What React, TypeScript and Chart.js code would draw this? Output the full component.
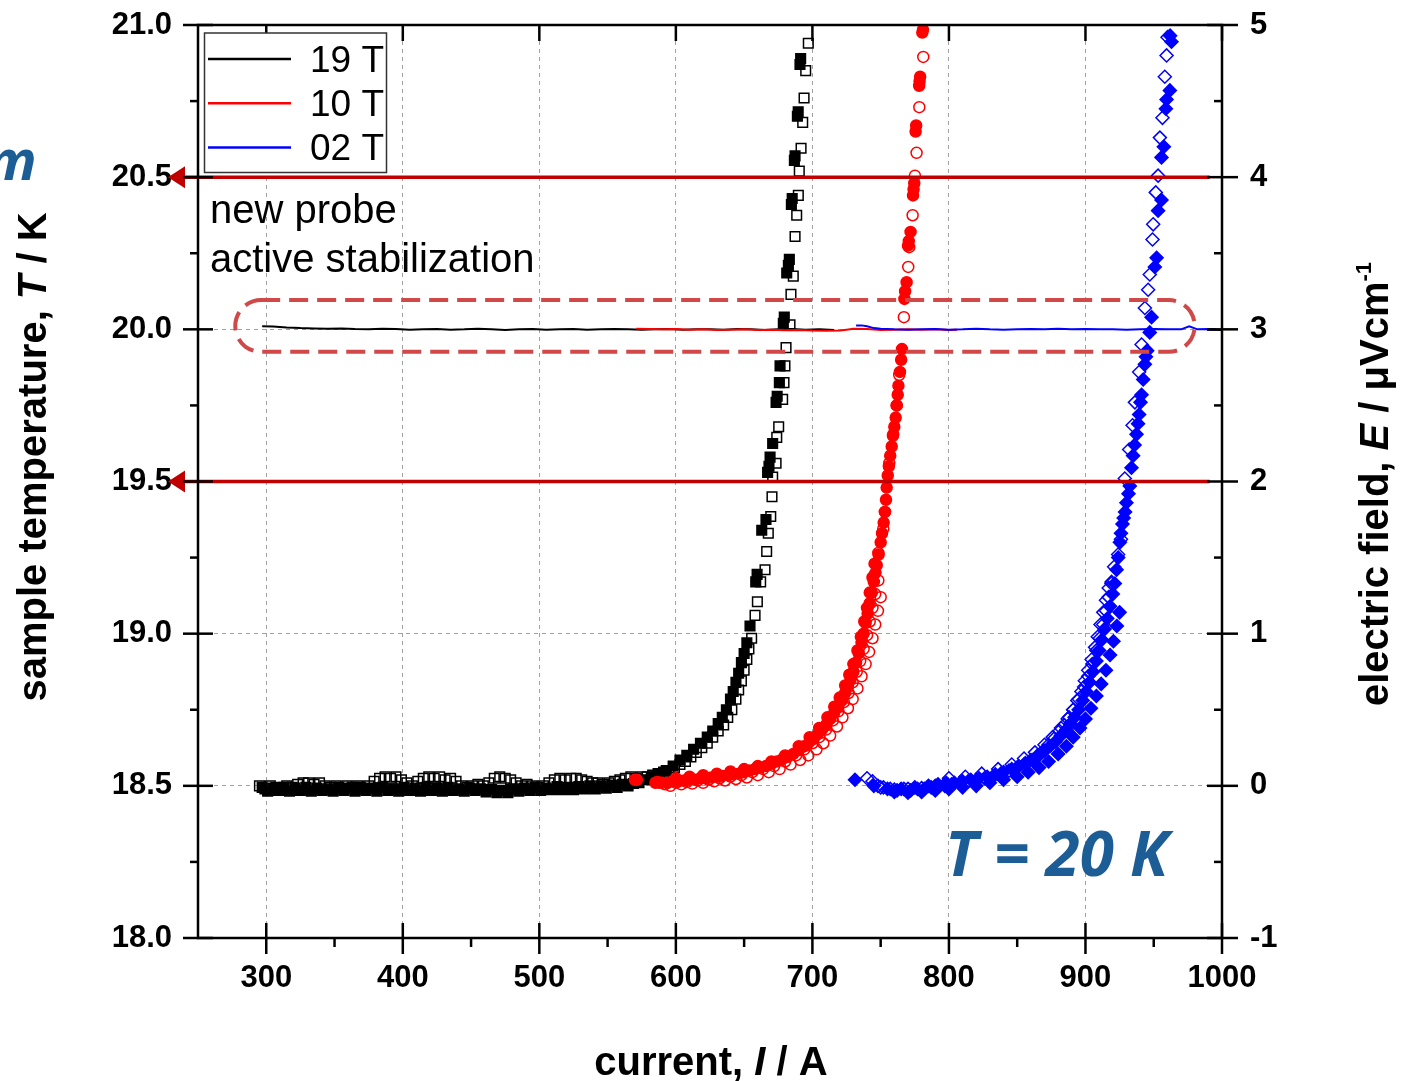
import React, { useEffect, useRef } from "react";
import { Chart, registerables } from "chart.js";

Chart.register(...registerables);

const FONT = "'Liberation Sans', Arial, Helvetica, sans-serif";

// ---------- axis ticks ----------
const currentTicks = [300, 400, 500, 600, 700, 800, 900, 1000];
const currentMinorTicks = [350, 450, 550, 650, 750, 850, 950];
const tempTicks = [18.0, 18.5, 19.0, 19.5, 20.0, 20.5, 21.0];
const tempMinorTicks = [18.25, 18.75, 19.25, 19.75, 20.25, 20.75];
const fieldTicks = [-1, 0, 1, 2, 3, 4, 5];
const fieldMinorTicks = [-0.5, 0.5, 1.5, 2.5, 3.5, 4.5];

// ---------- legend ----------
const seriesLabels = ["19 T", "10 T", "02 T"];
const seriesColors = ["#000000", "#ff0000", "#0000ff"];

// ---------- sample temperature (left axis) ----------
const temp19T: number[][] = [
  [297, 20.01], [305, 20.009], [315, 20.006], [325, 20.004], [335, 20.003], [345, 20.002],
  [355, 20.003], [365, 20.001], [375, 20.0], [385, 20.002], [395, 20.001], [405, 19.999],
  [415, 20.0], [425, 20.001], [435, 19.999], [445, 20.0], [455, 20.002], [465, 20.0],
  [475, 19.998], [485, 20.0], [495, 20.001], [505, 19.999], [515, 20.0], [525, 20.001],
  [535, 19.999], [545, 20.0], [555, 20.001], [565, 20.0], [575, 19.999], [585, 20.0],
  [595, 20.001], [605, 19.999], [615, 20.0], [625, 20.0], [635, 19.999], [645, 20.001],
  [655, 20.0], [665, 19.998], [675, 20.0], [685, 20.001], [695, 19.999], [705, 20.0], [716, 19.998],
];
const temp19TTail: number[][] = [[989, 19.999], [1000, 19.998]];
const temp10T: number[][] = [
  [571, 20.002], [580, 20.001], [590, 20.0], [600, 20.001], [610, 19.999], [620, 20.0],
  [630, 19.998], [640, 19.999], [650, 20.0], [660, 19.998], [670, 19.999], [680, 19.997],
  [690, 19.998], [700, 19.996], [710, 19.995], [720, 19.996], [725, 19.999], [730, 20.002],
  [740, 20.001], [750, 19.998], [760, 19.999], [770, 20.0], [780, 19.999], [790, 20.0],
  [800, 19.998], [806, 19.999],
];
const temp02T: number[][] = [
  [732, 20.013], [736, 20.013], [740, 20.01], [745, 20.004], [750, 20.002], [760, 20.0],
  [770, 19.999], [780, 20.0], [790, 20.001], [800, 19.999], [810, 20.0], [820, 20.002],
  [830, 20.0], [840, 19.999], [850, 20.0], [860, 20.001], [870, 20.0], [880, 20.002],
  [890, 20.0], [900, 20.001], [910, 20.0], [920, 20.0], [930, 19.999], [940, 20.0],
  [950, 20.001], [960, 20.0], [970, 20.0], [976, 20.01], [982, 20.0], [990, 20.001], [996, 20.0],
];

// ---------- electric field (right axis) ----------
const field19TFilled: number[][] = [
  [297, -0.01], [301, -0.035], [305, -0.015], [309, -0.03], [313, -0.01], [317, -0.035],
  [321, -0.015], [325, -0.03], [329, -0.01], [333, -0.035], [337, -0.015], [341, -0.03],
  [345, -0.02], [349, -0.035], [353, -0.01], [357, -0.03], [361, -0.015], [365, -0.035],
  [369, -0.01], [373, -0.03], [377, -0.015], [381, -0.035], [385, -0.01], [389, -0.03],
  [393, -0.02], [397, -0.035], [401, -0.01], [405, -0.03], [409, -0.015], [413, -0.035],
  [417, -0.01], [421, -0.03], [425, -0.015], [429, -0.035], [433, -0.01], [437, -0.03],
  [441, -0.02], [445, -0.035], [449, -0.015], [453, -0.03], [457, -0.02], [461, -0.04],
  [465, -0.025], [469, -0.045], [473, -0.03], [477, -0.045], [481, -0.02], [485, -0.035],
  [489, -0.015], [493, -0.03], [497, -0.01], [501, -0.03], [505, -0.015], [509, -0.025],
  [513, -0.005], [517, -0.025], [521, -0.01], [525, -0.025], [529, -0.005], [533, -0.02],
  [537, 0.0], [541, -0.02], [545, 0.0], [549, -0.015], [553, 0.005], [557, -0.01],
  [561, 0.01], [565, 0.0], [569, 0.015], [573, 0.02],
  [578, 0.04], [583, 0.06], [588, 0.08], [593, 0.1], [598, 0.13], [603, 0.17], [608, 0.2],
  [613, 0.24], [618, 0.28], [623, 0.32], [627, 0.36], [631, 0.41], [634, 0.45], [637, 0.5],
  [640, 0.57], [642, 0.62], [644, 0.68], [646, 0.74], [648, 0.81], [650, 0.87], [652, 0.94],
  [654.3, 1.05], [658.5, 1.34], [659.5, 1.39], [662.9, 1.68], [666.0, 1.75], [667.2, 2.06],
  [668.2, 2.1], [669.0, 2.16], [670.9, 2.25], [673.4, 2.52], [674.2, 2.56], [675.8, 2.65],
  [676.3, 2.76], [678.7, 3.04], [679.4, 3.08], [681.2, 3.37], [682.4, 3.42], [683.1, 3.46],
  [684.6, 3.82], [685.2, 3.86], [686.8, 4.11], [687.3, 4.14], [689.0, 4.4], [689.6, 4.43],
  [690.9, 4.74], [691.4, 4.78],
];
const field19TOpen: number[][] = [
  [295, 0.0], [299, -0.02], [303, 0.0], [307, -0.01], [311, -0.02], [315, 0.0], [319, -0.01],
  [323, 0.01], [327, 0.02], [331, 0.02], [335, 0.01], [339, 0.02], [343, 0.0], [347, -0.01],
  [351, 0.0], [355, -0.02], [359, 0.0], [363, -0.01], [367, 0.0], [371, -0.02], [375, 0.0],
  [379, 0.03], [383, 0.05], [387, 0.06], [391, 0.05], [395, 0.06], [399, 0.04], [403, 0.02],
  [407, 0.0], [411, 0.03], [415, 0.05], [419, 0.06], [423, 0.05], [427, 0.06], [431, 0.04],
  [435, 0.05], [439, 0.03], [443, 0.0], [447, -0.01], [451, 0.0], [455, 0.01], [459, 0.0],
  [463, 0.02], [467, 0.05], [471, 0.06], [475, 0.05], [479, 0.04], [483, 0.02], [487, 0.0],
  [491, 0.01], [495, 0.0], [499, -0.01], [503, 0.0], [507, 0.02], [511, 0.04], [515, 0.05],
  [519, 0.04], [523, 0.05], [527, 0.05], [531, 0.04], [535, 0.03], [539, 0.02], [543, 0.02],
  [547, 0.01], [551, 0.02], [555, 0.03], [559, 0.04], [563, 0.05], [567, 0.06], [571, 0.05],
  [575, 0.06], [579, 0.06], [583, 0.07], [587, 0.08], [591, 0.09], [595, 0.1], [599, 0.12],
  [603, 0.14], [607, 0.16], [611, 0.19], [615, 0.22], [619, 0.25], [623, 0.28], [627, 0.32],
  [631, 0.36], [635, 0.4], [638, 0.45], [641, 0.5], [644, 0.57], [646, 0.63], [648, 0.69],
  [650, 0.76], [652, 0.83], [653.5, 0.9], [655.5, 0.97], [658.0, 1.12], [659.7, 1.21],
  [662.1, 1.34], [665.3, 1.42], [666.5, 1.54], [667.7, 1.66], [669.5, 1.77], [670.4, 1.9],
  [670.9, 2.03], [673.4, 2.12], [673.9, 2.29], [675.3, 2.36], [678.2, 2.54], [679.2, 2.65],
  [679.9, 2.76], [680.7, 2.88], [683.6, 3.03], [684.3, 3.23], [686.0, 3.35], [687.3, 3.61],
  [688.5, 3.75], [689.7, 3.88], [690.4, 4.04], [691.7, 4.19], [692.9, 4.36], [693.9, 4.52],
  [695.1, 4.7], [697.0, 4.88],
];
const field10TFilled: number[][] = [
  [570, 0.04], [571.5, 0.04], [585, 0.02], [586.5, 0.025], [588, 0.02],
  [590, 0.02], [594, 0.02], [598, 0.03], [602, 0.03], [606, 0.035], [610, 0.04], [614, 0.04],
  [618, 0.05], [622, 0.05], [626, 0.055], [630, 0.06], [634, 0.065], [638, 0.07], [642, 0.075],
  [646, 0.08], [650, 0.09], [654, 0.1], [658, 0.11], [662, 0.12], [666, 0.13], [670, 0.145],
  [674, 0.16], [678, 0.175], [682, 0.19], [686, 0.21], [690, 0.235], [694, 0.26], [698, 0.29],
  [701, 0.31], [704, 0.34], [707, 0.37], [710, 0.4], [713, 0.44], [716, 0.48], [719, 0.52],
  [721.5, 0.56], [724, 0.61], [726, 0.65], [728, 0.7], [730, 0.75], [732, 0.81], [734, 0.87],
  [736, 0.94], [737.5, 1.0], [739, 1.07], [740.5, 1.13], [742, 1.2], [743.5, 1.27], [745, 1.34],
  [746.2, 1.4], [747.1, 1.45], [748.5, 1.52], [750, 1.6], [751, 1.66], [752.2, 1.73],
  [753.2, 1.8], [753.9, 1.88], [754.4, 1.96], [755.2, 2.04], [756, 2.1], [757, 2.17],
  [758.1, 2.23], [759, 2.3], [760, 2.36], [761, 2.42], [761.8, 2.5], [762.5, 2.57], [763, 2.63],
  [764.1, 2.72], [765, 2.8], [765.6, 2.87], [767.4, 3.2], [767.9, 3.25], [769.0, 3.31],
  [770.0, 3.55], [770.6, 3.58], [771.9, 3.64], [773.7, 3.88], [774.1, 3.92], [774.6, 3.96],
  [775.6, 4.3], [776.0, 4.34], [778.2, 4.6], [778.5, 4.63], [778.9, 4.66], [780.5, 4.95], [781, 4.97],
  [600, 0.05], [610, 0.06], [620, 0.07], [630, 0.08], [640, 0.095], [650, 0.11], [660, 0.13],
  [670, 0.16], [680, 0.2], [690, 0.26], [698, 0.32], [705, 0.38], [711, 0.45], [716, 0.52],
  [720, 0.58], [724, 0.66], [727, 0.73], [730, 0.8], [733, 0.89], [735.5, 0.98], [738, 1.08],
  [740, 1.17], [742, 1.27], [744, 1.37], [745.5, 1.46],
];
const field10TOpen: number[][] = [
  [592, 0.01], [600, 0.02], [608, 0.025], [616, 0.035], [624, 0.04], [632, 0.05], [640, 0.06],
  [648, 0.07], [656, 0.09], [664, 0.11], [672, 0.13], [680, 0.16], [688, 0.2], [694, 0.24],
  [700, 0.28], [705, 0.32], [710, 0.37], [715, 0.43], [719, 0.49], [723, 0.55], [726.5, 0.61],
  [729.5, 0.68], [732.5, 0.75], [735, 0.82], [737.5, 0.9], [740, 0.99], [742, 1.08], [744, 1.17],
  [746, 1.26], [748.3, 1.35], [748.3, 1.53], [751.9, 1.69], [753.1, 1.8], [756.3, 2.12],
  [759.2, 2.31], [761.7, 2.5], [763.6, 2.7], [767.0, 3.08], [770.2, 3.41], [770.9, 3.54],
  [773.4, 3.75], [775.1, 4.01], [776.3, 4.16], [778.3, 4.46], [781.2, 4.79],
  [596, 0.0], [604, 0.01], [612, 0.015], [620, 0.02], [628, 0.03], [636, 0.035], [644, 0.045],
  [652, 0.055], [660, 0.07], [668, 0.09], [676, 0.11], [684, 0.14], [691, 0.17], [697, 0.2],
  [703, 0.24], [708, 0.28], [713, 0.33], [718, 0.39], [722, 0.45], [726, 0.51], [729.5, 0.57],
  [733, 0.64], [736, 0.72], [739, 0.8], [741.5, 0.88], [744, 0.97], [746, 1.06], [748, 1.15],
  [750, 1.24],
];
const field02TFilled: number[][] = [
  [731.2, 0.04], [745, 0.0], [755, -0.02], [765, -0.02], [775, -0.01], [785, 0.0], [792, 0.01],
  [798, 0.02], [804, 0.02], [810, 0.03], [816, 0.04], [822, 0.05], [828, 0.06], [834, 0.075],
  [840, 0.09], [846, 0.11], [851, 0.13], [856, 0.15], [861, 0.17], [866, 0.2], [870, 0.23],
  [874, 0.26], [878, 0.29], [882, 0.33], [886, 0.37], [889, 0.41], [892, 0.45], [895, 0.5],
  [898, 0.56], [900.5, 0.62], [903, 0.68], [905.5, 0.75], [908, 0.82], [910, 0.89], [912, 0.96],
  [914, 1.03], [916, 1.1], [918, 1.18], [920, 1.26], [921.5, 1.33], [922.8, 1.42], [924, 1.5],
  [925.2, 1.6], [926, 1.66], [927.1, 1.72], [928, 1.76], [929, 1.8], [930, 1.86], [931.5, 1.92],
  [932.5, 1.97], [933.7, 2.09], [934.9, 2.17], [936, 2.24], [937.4, 2.31], [938.5, 2.38],
  [939.3, 2.44], [940.3, 2.52], [941.1, 2.57], [942.3, 2.67], [943.5, 2.77], [944.3, 2.82],
  [945.2, 2.86], [947.1, 2.98], [948.4, 3.08], [950.8, 3.41], [952.1, 3.47], [953.2, 3.78],
  [955.7, 3.85], [955.7, 4.13], [957.4, 4.2], [958.9, 4.45], [959.4, 4.51], [961.8, 4.57],
  [963.0, 4.89], [962, 4.93],
  [760, -0.04], [770, -0.045], [780, -0.04], [790, -0.03], [800, -0.02], [810, -0.01],
  [820, 0.0], [830, 0.02], [840, 0.04], [850, 0.06], [858, 0.09], [866, 0.12], [873, 0.16],
  [880, 0.21], [886, 0.26], [891, 0.32], [896, 0.38], [900, 0.44], [904, 0.51], [908, 0.59],
  [911.5, 0.67], [915, 0.76], [918, 0.86], [920.5, 0.95], [923, 1.05], [925, 1.14],
];
const field02TOpen: number[][] = [
  [740, 0.05], [744, 0.03], [748, 0.0], [752, -0.01], [757, -0.02], [762, -0.03], [767, -0.02],
  [772, -0.03], [777, -0.02], [782, -0.02], [787, -0.01], [792, 0.0], [797, 0.0], [802, 0.01],
  [808, 0.02], [814, 0.03], [820, 0.04], [826, 0.05], [832, 0.06], [838, 0.08], [844, 0.1],
  [850, 0.12], [855, 0.14], [860, 0.17], [865, 0.2], [869, 0.23], [873, 0.27], [877, 0.31],
  [881, 0.36], [884.5, 0.4], [888, 0.45], [891, 0.5], [894, 0.56], [897, 0.62], [899.5, 0.69],
  [902, 0.76], [904.5, 0.83], [907, 0.91], [909, 0.98], [911, 1.06], [913, 1.14], [915, 1.22],
  [917, 1.3], [919.1, 1.34], [921, 1.44], [923.9, 1.52], [926, 1.62], [928.8, 2.02], [932.0, 2.21],
  [934.5, 2.37], [936.2, 2.52], [939.3, 2.72], [941.1, 2.9], [943.5, 3.14], [945.9, 3.26],
  [947.1, 3.36], [949.1, 3.59], [949.6, 3.69], [951.5, 3.9], [953.2, 4.01], [954.5, 4.26],
  [956.4, 4.39], [958.1, 4.66], [959.4, 4.8], [960.1, 4.92],
  [750, -0.01], [760, -0.025], [770, -0.02], [780, -0.015], [790, 0.0],
  [800, 0.05], [812, 0.06], [824, 0.08], [836, 0.11], [846, 0.14], [855, 0.18], [863, 0.22],
  [870, 0.27], [876, 0.32], [882, 0.38], [887, 0.44], [891, 0.5], [895, 0.57], [899, 0.65],
  [902, 0.72], [905, 0.8], [908, 0.89], [910.5, 0.97], [913, 1.06], [915, 1.15], [917, 1.24],
  [919, 1.33],
];

const toXY = (arr: number[][]) => arr.map(([x, y]) => ({ x, y }));

function drawParts(ctx: any, parts: any[], x: number, y: number, angle: number) {
  ctx.save();
  ctx.translate(x, y);
  ctx.rotate(angle);
  let total = 0;
  parts.forEach((p) => {
    ctx.font = p.font;
    total += ctx.measureText(p.text).width;
  });
  let cx = -total / 2;
  ctx.textAlign = "left";
  ctx.textBaseline = "alphabetic";
  ctx.fillStyle = "#000";
  parts.forEach((p) => {
    ctx.font = p.font;
    ctx.fillText(p.text, cx, p.dy || 0);
    cx += ctx.measureText(p.text).width;
  });
  ctx.restore();
}

const decorPlugin = {
  id: "decor",
  afterDatasetsDraw(chart: any) {
    const ctx = chart.ctx;
    const xs = chart.scales.x;
    const yl = chart.scales.y;
    const yr = chart.scales.y1;
    const { left, right, top, bottom } = chart.chartArea;
    const line = (x1: number, y1: number, x2: number, y2: number) => {
      ctx.beginPath();
      ctx.moveTo(x1, y1);
      ctx.lineTo(x2, y2);
      ctx.stroke();
    };
    ctx.save();

    // red arrow lines
    ctx.strokeStyle = "#c00000";
    ctx.fillStyle = "#c00000";
    ctx.lineWidth = 3.5;
    [20.5, 19.5].forEach((t) => {
      const py = yl.getPixelForValue(t);
      const tip = left - 30;
      line(tip + 12, py, xs.getPixelForValue(991), py);
      ctx.beginPath();
      ctx.moveTo(tip, py);
      ctx.lineTo(tip + 17, py - 11);
      ctx.lineTo(tip + 17, py + 11);
      ctx.closePath();
      ctx.fill();
    });

    // dashed rounded rectangle
    const rx1 = xs.getPixelForValue(277.3);
    const rx2 = xs.getPixelForValue(980);
    const ry1 = yl.getPixelForValue(20.096);
    const ry2 = yl.getPixelForValue(19.926);
    ctx.strokeStyle = "#d04848";
    ctx.lineWidth = 4;
    ctx.setLineDash([19, 9]);
    ctx.beginPath();
    ctx.roundRect(rx1, ry1, rx2 - rx1, ry2 - ry1, 26);
    ctx.stroke();
    ctx.setLineDash([]);

    // frame
    ctx.strokeStyle = "#000";
    ctx.lineWidth = 2.5;
    ctx.strokeRect(left, top, right - left, bottom - top);

    // ticks
    currentTicks.forEach((v) => {
      const px = xs.getPixelForValue(v);
      line(px, bottom - 15, px, bottom + 16);
      line(px, top, px, top + 16);
    });
    currentMinorTicks.forEach((v) => {
      const px = xs.getPixelForValue(v);
      line(px, bottom, px, bottom + 9);
    });
    tempTicks.forEach((v) => {
      const py = yl.getPixelForValue(v);
      line(left - 15, py, left + 15, py);
    });
    tempMinorTicks.forEach((v) => {
      const py = yl.getPixelForValue(v);
      line(left - 8, py, left, py);
    });
    fieldTicks.forEach((v) => {
      const py = yr.getPixelForValue(v);
      line(right - 15, py, right + 16, py);
    });
    fieldMinorTicks.forEach((v) => {
      const py = yr.getPixelForValue(v);
      line(right - 8, py, right, py);
    });

    // legend
    ctx.fillStyle = "#fff";
    ctx.fillRect(204.5, 33, 182, 139.5);
    ctx.strokeStyle = "#333";
    ctx.lineWidth = 1.5;
    ctx.strokeRect(204.5, 33, 182, 139.5);
    ctx.font = `37px ${FONT}`;
    ctx.textAlign = "left";
    ctx.textBaseline = "alphabetic";
    seriesLabels.forEach((lab, i) => {
      const ly = 59 + i * 44.2;
      ctx.strokeStyle = seriesColors[i];
      ctx.lineWidth = 2.5;
      line(208, ly, 291, ly);
      ctx.fillStyle = "#000";
      ctx.fillText(lab, 310, ly + 13);
    });

    // annotation text
    ctx.fillStyle = "#000";
    ctx.font = `40px ${FONT}`;
    ctx.fillText("new probe", 210, 223);
    ctx.fillText("active stabilization", 210, 272);

    ctx.fillStyle = "#1c5d96";
    ctx.font = `italic bold 62px 'Open Sans', ${FONT}`;
    ctx.fillText("T = 20 K", 945, 876);
    ctx.font = `italic bold 56px 'Open Sans', ${FONT}`;
    ctx.fillText("m", -14, 180);

    // axis titles
    const B = `bold 40px ${FONT}`;
    const BI = `italic bold 40px ${FONT}`;
    drawParts(ctx, [
      { text: "current, ", font: B },
      { text: "I", font: BI },
      { text: " / A", font: B },
    ], 711, 1075, 0);
    drawParts(ctx, [
      { text: "sample temperature, ", font: B },
      { text: "T", font: BI },
      { text: " / K", font: B },
    ], 46, 457, -Math.PI / 2);
    drawParts(ctx, [
      { text: "electric field, ", font: B },
      { text: "E", font: BI },
      { text: " / \u03bcVcm", font: B },
      { text: "-1", font: `bold 22px ${FONT}`, dy: -17 },
    ], 1388, 484, -Math.PI / 2);

    ctx.restore();
  },
};

export default function App() {
  const ref = useRef<HTMLCanvasElement | null>(null);
  useEffect(() => {
    if (!ref.current) return;
    const tickFont = { family: FONT, size: 31, weight: "bold" as const };
    const lineDs = (data: number[][], color: string) => ({
      type: "line" as const,
      data: toXY(data),
      yAxisID: "y",
      borderColor: color,
      backgroundColor: color,
      borderWidth: 2,
      pointRadius: 0,
      showLine: true,
      fill: false,
      tension: 0,
    });
    const ptDs = (data: number[][], color: string, style: string, radius: number, filled: boolean) => ({
      type: "scatter" as const,
      data: toXY(data),
      yAxisID: "y1",
      showLine: false,
      pointStyle: style,
      pointRadius: radius,
      pointBorderWidth: 1.5,
      borderWidth: 1.5,
      borderColor: color,
      pointBorderColor: color,
      backgroundColor: filled ? color : "rgba(0,0,0,0)",
      pointBackgroundColor: filled ? color : "rgba(0,0,0,0)",
    });
    const noPad = (s: any) => {
      s.paddingTop = 0;
      s.paddingBottom = 0;
    };
    const chart = new Chart(ref.current, {
      type: "scatter",
      data: {
        datasets: [
          lineDs(temp02T, "#0000ff"),
          lineDs(temp10T, "#ff0000"),
          lineDs(temp19T, "#000000"),
          lineDs(temp19TTail, "#000000"),
          ptDs(field10TFilled, "#ff0000", "circle", 5.5, true),
          ptDs(field10TOpen, "#ff0000", "circle", 5.5, false),
          ptDs(field02TOpen, "#0000ff", "rectRot", 6.5, false),
          ptDs(field02TFilled, "#0000ff", "rectRot", 6.5, true),
          ptDs(field19TFilled, "#000000", "rect", 6.8, true),
          ptDs(field19TOpen, "#000000", "rect", 6.8, false),
        ] as any,
      },
      options: {
        responsive: false,
        animation: false,
        events: [],
        layout: { padding: { top: 25, left: 0, right: 0, bottom: 0 } },
        plugins: { legend: { display: false }, tooltip: { enabled: false } },
        scales: {
          x: {
            type: "linear",
            min: 250,
            max: 1000,
            afterBuildTicks: (s: any) => {
              s.ticks = currentTicks.map((v) => ({ value: v }));
            },
            afterFit: (s: any) => {
              s.height = 143;
              s.paddingLeft = 0;
              s.paddingRight = 0;
            },
            grid: {
              color: (c: any) => (c.tick && c.tick.value < 1000 ? "#a0a0a0" : "rgba(0,0,0,0)"),
              lineWidth: 1,
              drawTicks: false,
            },
            border: { display: false, dash: [4, 4] },
            ticks: {
              padding: 22,
              autoSkip: false,
              maxRotation: 0,
              color: "#000",
              font: tickFont,
              callback: (v: any) => String(v),
            },
          },
          y: {
            type: "linear",
            position: "left",
            min: 18,
            max: 21,
            afterBuildTicks: (s: any) => {
              s.ticks = tempTicks.map((v) => ({ value: v }));
            },
            afterFit: (s: any) => {
              s.width = 198;
              noPad(s);
            },
            grid: {
              color: (c: any) =>
                c.tick && c.tick.value > 18.01 && c.tick.value < 20.99 ? "#a0a0a0" : "rgba(0,0,0,0)",
              lineWidth: 1,
              drawTicks: false,
            },
            border: { display: false, dash: [4, 4] },
            ticks: {
              padding: 26,
              autoSkip: false,
              color: "#000",
              font: tickFont,
              callback: (v: any) => Number(v).toFixed(1),
            },
          },
          y1: {
            type: "linear",
            position: "right",
            min: -1,
            max: 5,
            afterBuildTicks: (s: any) => {
              s.ticks = fieldTicks.map((v) => ({ value: v }));
            },
            afterFit: (s: any) => {
              s.width = 182;
              noPad(s);
            },
            grid: { drawOnChartArea: false, drawTicks: false },
            border: { display: false },
            ticks: {
              padding: 28,
              autoSkip: false,
              color: "#000",
              font: tickFont,
              callback: (v: any) => String(v),
            },
          },
        },
      } as any,
      plugins: [decorPlugin],
    });
    return () => chart.destroy();
  }, []);
  return (
    <div style={{ position: "absolute", left: 0, top: 0, width: 1404, height: 1081, background: "#fff" }}>
      <canvas ref={ref} width={1404} height={1081} style={{ display: "block" }} />
    </div>
  );
}
